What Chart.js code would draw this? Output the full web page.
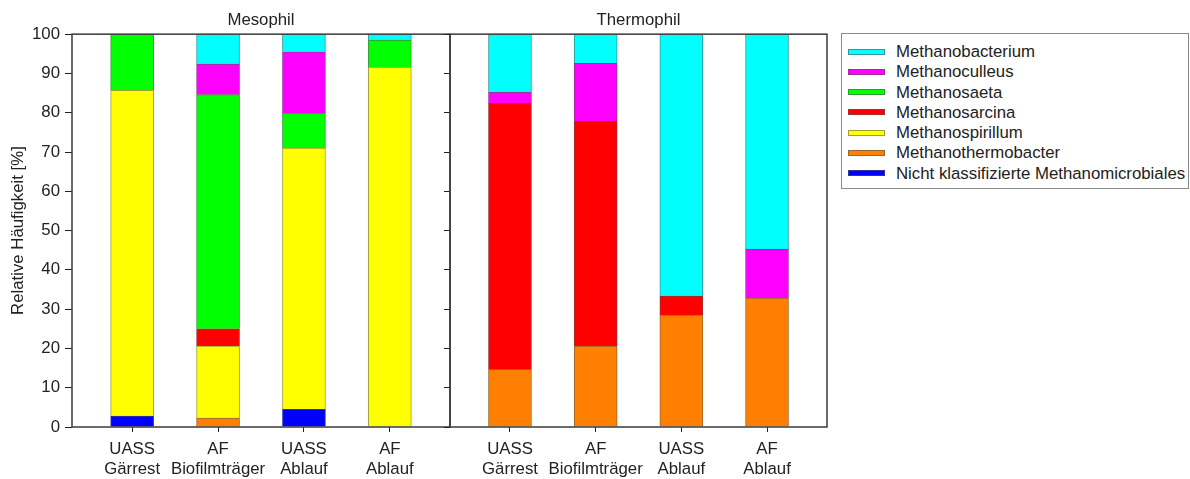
<!DOCTYPE html>
<html>
<head>
<meta charset="utf-8">
<script src="https://cdn.jsdelivr.net/npm/chart.js@4/dist/chart.umd.min.js"></script>
<style>
  body { margin: 0; background: #fff; overflow: hidden; font-family: Arial, "Liberation Sans", sans-serif; }
  #wrap { position: relative; width: 1190px; height: 479px; }
  #meso { position: absolute; left: 0; top: 0; }
  #thermo { position: absolute; left: 440px; top: 0; }
  #legend { position: absolute; left: 841px; top: 33px; width: 346px; height: 146px; padding-top: 8px;
            border: 1px solid #8a8a8a; font-size: 16.8px; color: #222; overflow: hidden; }
  #legend div { height: 20.3px; line-height: 20.3px; white-space: nowrap; padding-left: 6px; }
  #legend span.sw { display: inline-block; width: 35px; height: 4px; vertical-align: middle; margin-right: 11px; border: 1px solid; position: relative; top: -1px; }
</style>
</head>
<body>
<div id="wrap">
  <canvas id="meso" width="451" height="479"></canvas>
  <canvas id="thermo" width="390" height="479"></canvas>
  <div id="legend"></div>
</div>
<script>
// sample names (two-line tick labels)
const samples = [["UASS", "Gärrest"], ["AF", "Biofilmträger"], ["UASS", "Ablauf"], ["AF", "Ablauf"]];
const positions = [1, 2, 3, 4];

// genera, bottom of stack first
const genera = ["Nicht klassifizierte Methanomicrobiales", "Methanothermobacter", "Methanospirillum",
                "Methanosarcina", "Methanosaeta", "Methanoculleus", "Methanobacterium"];
const fills   = ["#0000ff", "#ff8000", "#ffff00", "#ff0000", "#00ff00", "#ff00ff", "#00ffff"];
const borders = ["#333399", "#996633", "#a0a030", "#993333", "#339933", "#993399", "#339999"];

// Mesophil, relative abundance [%]
const mesoNicht    = [2.8, 0, 4.5, 0];
const mesoThermob  = [0, 2.3, 0, 0];
const mesoSpirill  = [82.9, 18.3, 66.5, 91.6];
const mesoSarcina  = [0, 4.4, 0, 0];
const mesoSaeta    = [14.3, 59.6, 8.9, 6.9];
const mesoCulleus  = [0, 7.8, 15.6, 0];
const mesoBacter   = [0, 7.6, 4.5, 1.5];

// Thermophil, relative abundance [%]
const thermoNicht   = [0, 0, 0, 0];
const thermoThermob = [14.7, 20.6, 28.5, 32.8];
const thermoSpirill = [0, 0, 0, 0];
const thermoSarcina = [67.7, 57.3, 4.8, 0];
const thermoSaeta   = [0, 0, 0, 0];
const thermoCulleus = [2.8, 14.7, 0, 12.5];
const thermoBacter  = [14.8, 7.4, 66.7, 54.7];

const FONT = "Arial, 'Liberation Sans', sans-serif";
const SIZE = 16.8;
const INK = "#222";

const framePlugin = {
  id: "frame",
  afterDatasetsDraw(chart) {
    const { ctx, chartArea: a } = chart;
    ctx.save();
    ctx.strokeStyle = "#3a3a3a";
    ctx.lineWidth = 1.5;
    ctx.strokeRect(a.left, a.top, a.right - a.left, a.bottom - a.top);
    ctx.restore();
  },
};

function panel(id, title, series, first) {
  const datasets = series.map((vals, i) => ({
    label: genera[i],
    data: positions.map((x, j) => ({ x, y: vals[j] })),
    backgroundColor: fills[i],
    borderColor: borders[i],
    borderWidth: 1,
    barThickness: 43,
  }));
  return new Chart(document.getElementById(id), {
    type: "bar",
    data: { datasets },
    plugins: [framePlugin],
    options: {
      responsive: false,
      animation: false,
      layout: { padding: { left: 0, right: first ? 1 : 3, top: 0, bottom: 0 } },
      plugins: {
        legend: { display: false },
        tooltip: { enabled: false },
        title: {
          display: true, text: title, color: INK, fullSize: false,
          font: { family: FONT, size: SIZE, weight: "normal", lineHeight: 1.2 },
          padding: { top: 10, bottom: 4 },
        },
      },
      scales: {
        x: {
          type: "linear", min: 0.3, max: 4.7, stacked: true, offset: false,
          afterBuildTicks: (s) => { s.ticks = positions.map((v) => ({ value: v })); },
          afterFit: (s) => { s.height = 52; },
          ticks: {
            callback: (v) => samples[v - 1], color: INK, padding: 7, autoSkip: false, maxRotation: 0,
            font: { family: FONT, size: SIZE, lineHeight: 1.19 },
          },
          grid: { drawOnChartArea: false, offset: false, tickLength: 5, color: INK },
          border: { display: false },
        },
        y: {
          min: 0, max: 100, stacked: true,
          afterFit: (s) => { s.width = first ? 72 : 10; },
          ticks: {
            display: first, stepSize: 10, color: INK, padding: 5,
            font: { family: FONT, size: SIZE },
          },
          grid: { drawOnChartArea: false, tickLength: first ? 7 : 6, color: INK },
          border: { display: false },
          title: {
            display: first, text: "Relative Häufigkeit [%]", color: INK,
            font: { family: FONT, size: SIZE }, padding: { top: 8, bottom: 0 },
          },
        },
      },
    },
  });
}

panel("meso", "Mesophil",
  [mesoNicht, mesoThermob, mesoSpirill, mesoSarcina, mesoSaeta, mesoCulleus, mesoBacter], true);
panel("thermo", "Thermophil",
  [thermoNicht, thermoThermob, thermoSpirill, thermoSarcina, thermoSaeta, thermoCulleus, thermoBacter], false);

// legend, top of stack first
const legend = document.getElementById("legend");
for (let i = genera.length - 1; i >= 0; i--) {
  const row = document.createElement("div");
  const sw = document.createElement("span");
  sw.className = "sw";
  sw.style.background = fills[i];
  sw.style.borderColor = borders[i];
  row.appendChild(sw);
  row.appendChild(document.createTextNode(genera[i]));
  legend.appendChild(row);
}
</script>
</body>
</html>
